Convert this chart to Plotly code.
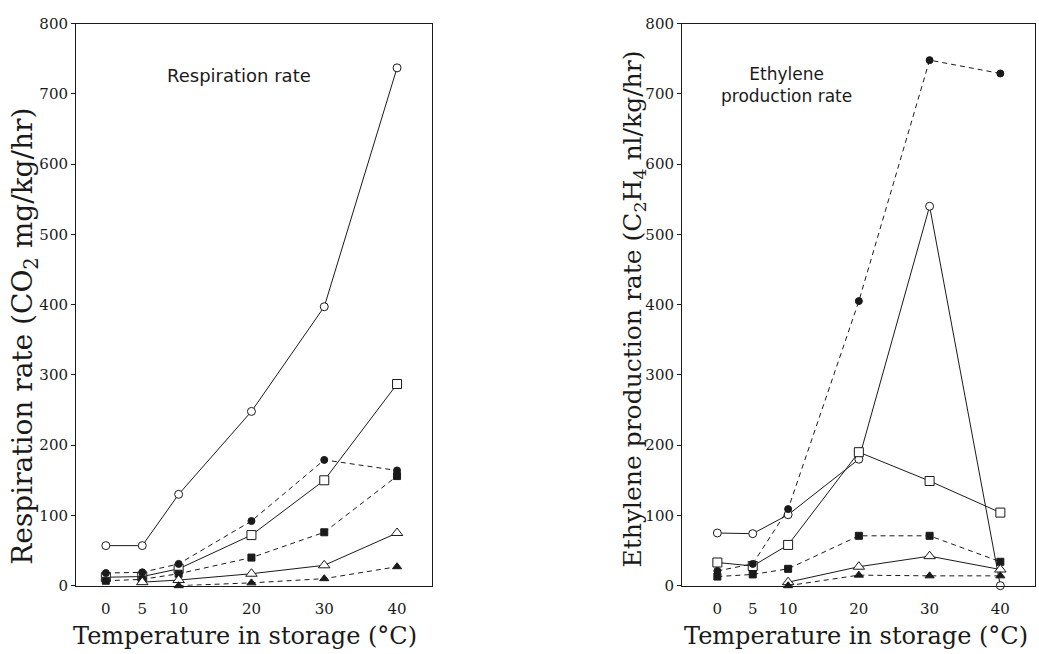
import plotly.graph_objects as go

# Storage temperatures (°C)
temps = [0, 5, 10, 20, 30, 40]

# Respiration rate, CO2 mg/kg/hr
resp_open_circle = [57, 57, 130, 248, 397, 737]
resp_open_square = [12, 13, 24, 72, 150, 287]
resp_filled_circle = [18, 19, 31, 92, 179, 164]
resp_filled_square = [7, 9, 17, 40, 76, 156]
resp_open_triangle = [None, 5, 8, 17, 29, 75]
resp_filled_triangle = [None, None, 0, 4, 10, 27]

# Ethylene production rate, C2H4 nl/kg/hr
eth_open_circle = [75, 74, 101, 180, 540, 0]
eth_open_square = [33, 28, 58, 190, 149, 104]
eth_filled_circle = [21, 31, 109, 405, 748, 729]
eth_filled_square = [13, 16, 24, 71, 71, 34]
eth_open_triangle = [None, None, 5, 27, 42, 23]
eth_filled_triangle = [None, None, 0, 15, 14, 14]

y_ticks = [0, 100, 200, 300, 400, 500, 600, 700, 800]
x_ticks = [0, 5, 10, 20, 30, 40]

INK = "#1a1a1a"
SERIF = "DejaVu Serif"
SANS = "DejaVu Sans"

# (key, marker symbol, filled?, size, dashed?)
styles = [
    ("open_circle", "circle", False, 8, False),
    ("open_square", "square", False, 9, False),
    ("filled_circle", "circle", True, 7, True),
    ("filled_square", "square", True, 7, True),
    ("open_triangle", "triangle-up", False, 10, False),
    ("filled_triangle", "triangle-up", True, 8, True),
]

resp_sets = {
    "open_circle": resp_open_circle,
    "open_square": resp_open_square,
    "filled_circle": resp_filled_circle,
    "filled_square": resp_filled_square,
    "open_triangle": resp_open_triangle,
    "filled_triangle": resp_filled_triangle,
}
eth_sets = {
    "open_circle": eth_open_circle,
    "open_square": eth_open_square,
    "filled_circle": eth_filled_circle,
    "filled_square": eth_filled_square,
    "open_triangle": eth_open_triangle,
    "filled_triangle": eth_filled_triangle,
}

fig = go.Figure()


def add_series(values, symbol, filled, size, dashed, xref, yref, name):
    fig.add_trace(go.Scatter(
        x=temps, y=values, name=name, mode="lines+markers",
        xaxis=xref, yaxis=yref, connectgaps=False, cliponaxis=False,
        line=dict(color=INK, width=1, dash="5px,4px" if dashed else "solid"),
        marker=dict(symbol=symbol, size=size,
                    color=INK if filled else "white",
                    line=dict(color=INK, width=1)),
        showlegend=False,
    ))


for key, sym, filled, size, dashed in styles:
    add_series(resp_sets[key], sym, filled, size, dashed, "x", "y", "resp_" + key)
for key, sym, filled, size, dashed in styles:
    add_series(eth_sets[key], sym, filled, size, dashed, "x2", "y2", "eth_" + key)

W, H = 1039, 654


def px_x(p):
    return p / W


def px_y(p):
    return 1 - p / H


axis_common = dict(
    showline=True, mirror=True, linecolor=INK, linewidth=1,
    showgrid=False, zeroline=False,
    tickfont=dict(family=SERIF, size=15, color=INK),
)

fig.update_layout(
    width=W, height=H,
    margin=dict(l=0, r=0, t=0, b=0),
    paper_bgcolor="white", plot_bgcolor="white",
    xaxis=dict(axis_common, domain=[px_x(76), px_x(432)], range=[-4.1, 44.8],
               tickvals=x_ticks, ticks="", ticklabelstandoff=9, anchor="y"),
    yaxis=dict(axis_common, domain=[px_y(593), px_y(15)], range=[0, 800],
               tickvals=y_ticks, ticks="outside", ticklen=4, tickcolor=INK,
               anchor="x"),
    xaxis2=dict(axis_common, domain=[px_x(682), px_x(1035)], range=[-5.0, 44.9],
                tickvals=x_ticks, ticks="", ticklabelstandoff=9, anchor="y2"),
    yaxis2=dict(axis_common, domain=[px_y(593), px_y(15)], range=[0, 800],
                tickvals=y_ticks, ticks="outside", ticklen=4, tickcolor=INK,
                anchor="x2"),
)

annotations = [
    dict(text="Respiration rate", x=px_x(239), y=px_y(68),
         font=dict(family=SANS, size=18, color=INK)),
    dict(text="Ethylene<br>production rate", x=px_x(786), y=px_y(78),
         font=dict(family=SANS, size=17, color=INK)),
    dict(text="Temperature in storage (°C)", x=px_x(245), y=px_y(645),
         font=dict(family=SERIF, size=24, color=INK)),
    dict(text="Temperature in storage (°C)", x=px_x(856), y=px_y(645),
         font=dict(family=SERIF, size=24, color=INK)),
    dict(text="Respiration rate (CO<sub>2</sub> mg/kg/hr)", x=px_x(25), y=px_y(337),
         textangle=-90, font=dict(family=SERIF, size=28, color=INK)),
    dict(text="Ethylene production rate (C<sub>2</sub>H<sub>4</sub> nl/kg/hr)",
         x=px_x(634), y=px_y(309),
         textangle=-90, font=dict(family=SERIF, size=25, color=INK)),
]
for a in annotations:
    a.update(xref="paper", yref="paper", showarrow=False,
             xanchor="center", yanchor="middle")
fig.update_layout(annotations=annotations)

fig.write_html("out.html")
